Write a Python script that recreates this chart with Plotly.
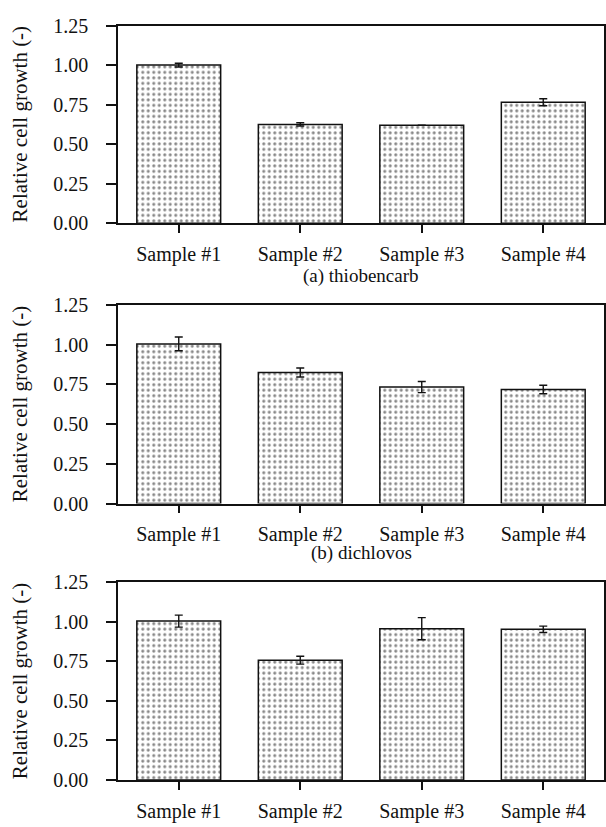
import plotly.graph_objects as go

categories = ["Sample #1", "Sample #2", "Sample #3", "Sample #4"]
tick_vals = [0.0, 0.25, 0.5, 0.75, 1.0, 1.25]
tick_text = ["0.00", "0.25", "0.50", "0.75", "1.00", "1.25"]

thiobencarb_mean = [1.00, 0.625, 0.62, 0.765]
thiobencarb_err = [0.012, 0.010, 0.0, 0.022]

dichlovos_mean = [1.005, 0.825, 0.733, 0.718]
dichlovos_err = [0.043, 0.028, 0.035, 0.027]

third_mean = [1.005, 0.758, 0.957, 0.953]
third_err = [0.038, 0.025, 0.07, 0.02]

captions = ["(a) thiobencarb", "(b) dichlovos"]
y_title = "Relative cell growth (-)"

W, H = 606, 827
FONT = "'Liberation Serif', 'Times New Roman', Times, serif"

# panel pixel extents (top, bottom) of plot area
panels = [(15, 218), (302, 506), (587, 790)]
x_left, x_right = 118, 604

fig = go.Figure()
series = [(thiobencarb_mean, thiobencarb_err), (dichlovos_mean, dichlovos_err), (third_mean, third_err)]

for i, (m, e) in enumerate(series):
    idx = "" if i == 0 else str(i + 1)
    fig.add_trace(go.Bar(
        x=categories, y=m,
        xaxis="x" + idx, yaxis="y" + idx,
        width=0.69,
        marker=dict(
            color="white",
            line=dict(color="#111", width=1.5),
            pattern=dict(shape=".", size=5.5, solidity=0.25, fgcolor="#111", bgcolor="white"),
        ),
        error_y=dict(type="data", array=e, visible=True, color="#111", thickness=1.4, width=4),
        showlegend=False,
    ))
    top, bot = panels[i]
    ydom = [1 - bot / H, 1 - top / H]
    xkey = "xaxis" + idx
    ykey = "yaxis" + idx
    fig.update_layout(**{
        xkey: dict(
            domain=[x_left / W, x_right / W], anchor="y" + idx,
            range=[-0.5, 3.5], showline=True, linecolor="#111", linewidth=1.5, mirror=True,
            ticks="outside", ticklen=8, tickwidth=1.5, tickcolor="#111",
            tickfont=dict(family=FONT, size=20, color="#111"), ticklabelstandoff=4,
            showgrid=False, zeroline=False, fixedrange=True,
        ),
        ykey: dict(
            domain=ydom, anchor="x" + idx,
            range=[0, 1.25], tickvals=tick_vals, ticktext=tick_text,
            showline=True, linecolor="#111", linewidth=1.5, mirror=True,
            ticks="outside", ticklen=10, tickwidth=1.5, tickcolor="#111",
            tickfont=dict(family=FONT, size=20, color="#111"), ticklabelstandoff=14,
            showgrid=False, zeroline=False, fixedrange=True,
        ),
    })
    fig.add_annotation(
        text=y_title, textangle=-90, xref="paper", yref="paper",
        x=20 / W, y=1 - (top + bot) / 2 / H, xanchor="center", yanchor="middle",
        showarrow=False, font=dict(family=FONT, size=21, color="#111"),
    )

cap_y = [272, 557]
for c, yy in zip(captions, cap_y):
    fig.add_annotation(
        text=c, xref="paper", yref="paper",
        x=(x_left + x_right) / 2 / W, y=1 - yy / H, xanchor="center", yanchor="middle",
        showarrow=False, font=dict(family=FONT, size=19, color="#111"),
    )

fig.update_layout(
    width=W, height=H,
    margin=dict(l=0, r=0, t=0, b=0),
    paper_bgcolor="white", plot_bgcolor="white",
    bargap=0.3,
)

post = (
    "document.documentElement.style.margin='0';"
    "document.documentElement.style.overflow='hidden';"
    "document.body.style.margin='0';document.body.style.padding='0';"
    "document.body.style.overflow='hidden';"
    "var d=document.getElementsByClassName('plotly-graph-div')[0];"
    "d.style.position='absolute';d.style.top='0px';d.style.left='0px';"
)

fig.write_html("out.html", config={"displayModeBar": False}, post_script=post)
